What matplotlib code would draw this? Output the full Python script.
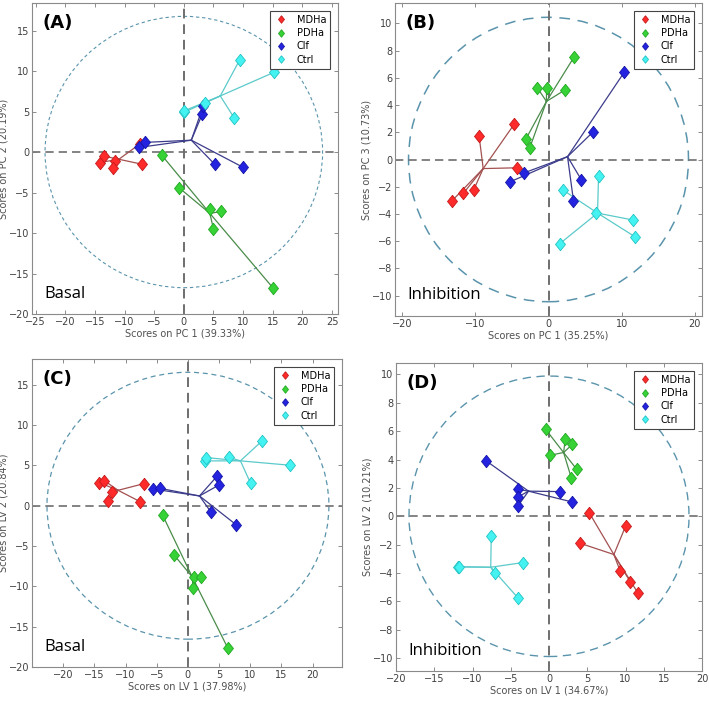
import numpy as np
import matplotlib
matplotlib.use("Agg")
import matplotlib.pyplot as plt
from matplotlib.patches import Ellipse

groups = ["MDHa", "PDHa", "Clf", "Ctrl"]
fill_colors = ["#ff2a2a", "#36d236", "#2424e0", "#45f2f2"]
edge_colors = ["#c41a1a", "#22a822", "#1414a8", "#22c4c4"]
line_colors = ["#a45050", "#4a8c4a", "#3c3c8c", "#5ccaca"]

# (A) PCA basal
a_mdha_x = [-14.2, -13.5, -11.6, -11.9, -7.1, -7.4]
a_mdha_y = [-1.3, -0.5, -1.07, -2.0, -1.5, 1.0]
a_pdha_x = [-3.7, -0.84, 4.49, 6.35, 5.0, 15.06]
a_pdha_y = [-0.41, -4.39, -7.0, -7.34, -9.5, -16.8]
a_clf_x = [-7.53, -6.52, 3.15, 3.26, 5.22, 10.0]
a_clf_y = [0.57, 1.19, 4.75, 5.66, -1.52, -1.89]
a_ctrl_x = [0.0, 0.1, 3.65, 9.44, 15.2, 8.5]
a_ctrl_y = [4.9, 5.1, 6.1, 11.4, 9.84, 4.2]

# (B) PCA inhibition
b_mdha_x = [-13.24, -11.64, -10.23, -9.5, -4.66, -4.34]
b_mdha_y = [-3.06, -2.48, -2.23, 1.76, 2.62, -0.61]
b_pdha_x = [-3.1, -2.56, -1.55, -0.27, 2.28, 3.52]
b_pdha_y = [1.5, 0.86, 5.29, 5.29, 5.12, 7.55]
b_clf_x = [-5.25, -3.42, 3.42, 4.47, 6.03, 10.37]
b_clf_y = [-1.64, -1.0, -3.04, -1.47, 1.99, 6.42]
b_ctrl_x = [2.0, 6.85, 6.48, 11.5, 11.87, 1.55]
b_ctrl_y = [-2.25, -1.18, -3.9, -4.44, -5.69, -6.18]

# (C) PLS-DA basal
c_mdha_x = [-14.2, -13.4, -12.1, -12.8, -7.65, -7.06]
c_mdha_y = [2.86, 3.11, 1.66, 0.62, 0.5, 2.74]
c_pdha_x = [-4.06, -2.19, 0.91, 2.09, 0.86, 6.36]
c_pdha_y = [-1.16, -6.14, -8.88, -8.8, -10.2, -17.6]
c_clf_x = [-5.56, -4.49, 4.7, 4.97, 3.74, 7.75]
c_clf_y = [2.07, 2.16, 3.69, 2.57, -0.83, -2.37]
c_ctrl_x = [2.73, 2.89, 6.52, 11.9, 16.4, 10.05]
c_ctrl_y = [5.56, 5.98, 6.02, 8.05, 5.02, 2.78]

# (D) PLS-DA inhibition
d_mdha_x = [5.28, 10.04, 4.06, 9.3, 10.6, 11.6]
d_mdha_y = [0.23, -0.66, -1.9, -3.85, -4.6, -5.38]
d_pdha_x = [-0.44, 0.13, 2.14, 3.06, 3.62, 2.93]
d_pdha_y = [6.13, 4.3, 5.47, 5.07, 3.31, 2.68]
d_clf_x = [-8.25, -4.06, -4.06, -4.1, 1.4, 3.01]
d_clf_y = [3.92, 1.9, 1.36, 0.7, 1.74, 1.01]
d_ctrl_x = [-7.55, -11.9, -11.7, -7.12, -3.4, -4.02]
d_ctrl_y = [-1.38, -3.57, -3.55, -4.01, -3.26, -5.77]

panels = [
    dict(tag="(A)", cond="Basal",
         xs=[a_mdha_x, a_pdha_x, a_clf_x, a_ctrl_x], ys=[a_mdha_y, a_pdha_y, a_clf_y, a_ctrl_y],
         xlabel="Scores on PC 1 (39.33%)", ylabel="Scores on PC 2 (20.19%)",
         radius=(23.4, 16.75), xlim=(-25.6, 26), ylim=(-20, 18.4),
         xticks=np.arange(-25, 26, 5), yticks=np.arange(-20, 16, 5),
         box=[32, 3, 338, 314], dash=(3, 2.5), elw=0.8),
    dict(tag="(B)", cond="Inhibition",
         xs=[b_mdha_x, b_pdha_x, b_clf_x, b_ctrl_x], ys=[b_mdha_y, b_pdha_y, b_clf_y, b_ctrl_y],
         xlabel="Scores on PC 1 (35.25%)", ylabel="Scores on PC 3 (10.73%)",
         radius=(19.15, 10.45), xlim=(-21, 21), ylim=(-11.5, 11.5),
         xticks=np.arange(-20, 21, 10), yticks=np.arange(-10, 11, 2),
         box=[395, 3, 702, 316], dash=(7, 5), elw=1.1),
    dict(tag="(C)", cond="Basal",
         xs=[c_mdha_x, c_pdha_x, c_clf_x, c_ctrl_x], ys=[c_mdha_y, c_pdha_y, c_clf_y, c_ctrl_y],
         xlabel="Scores on LV 1 (37.98%)", ylabel="Scores on LV 2 (20.84%)",
         radius=(22.6, 16.55), xlim=(-25, 24.7), ylim=(-20, 18.2),
         xticks=np.arange(-20, 21, 5), yticks=np.arange(-20, 16, 5),
         box=[32, 359, 342, 667], dash=(4, 3), elw=0.9),
    dict(tag="(D)", cond="Inhibition",
         xs=[d_mdha_x, d_pdha_x, d_clf_x, d_ctrl_x], ys=[d_mdha_y, d_pdha_y, d_clf_y, d_ctrl_y],
         xlabel="Scores on LV 1 (34.67%)", ylabel="Scores on LV 2 (10.21%)",
         radius=(18.3, 9.88), xlim=(-20, 20), ylim=(-10.9, 10.8),
         xticks=np.arange(-20, 21, 5), yticks=np.arange(-10, 11, 2),
         box=[396, 363, 702, 671], dash=(6, 4), elw=1.0),
]

W, H = 709, 702
diamond = [(0, 1), (0.8, 0), (0, -1), (-0.8, 0), (0, 1)]

fig = plt.figure(figsize=(W / 100, H / 100), dpi=100)

for p in panels:
    l, t, r, b = p["box"]
    ax = fig.add_axes([l / W, 1 - b / H, (r - l) / W, (b - t) / H])
    ax.set_xlim(p["xlim"])
    ax.set_ylim(p["ylim"])

    ell = Ellipse((0, 0), 2 * p["radius"][0], 2 * p["radius"][1], fill=False,
                  edgecolor="#5a94ac", lw=p["elw"], linestyle=(0, p["dash"]), zorder=1)
    ax.add_patch(ell)
    ax.axhline(0, color="#6e6e6e", lw=1.2, linestyle=(0, (5, 3)), zorder=1)
    ax.axvline(0, color="#6e6e6e", lw=1.4, linestyle=(0, (5, 3)), zorder=1)

    handles = []
    for i, g in enumerate(groups):
        x = np.array(p["xs"][i])
        y = np.array(p["ys"][i])
        cx, cy = x.mean(), y.mean()
        for xi, yi in zip(x, y):
            ax.plot([cx, xi], [cy, yi], color=line_colors[i], lw=0.9, zorder=2)
        h = ax.plot(x, y, linestyle="none", marker=diamond, markersize=9,
                    markerfacecolor=fill_colors[i], markeredgecolor=edge_colors[i],
                    markeredgewidth=0.6, zorder=3, label=g)[0]
        handles.append(h)

    leg = ax.legend(handles=handles, loc="upper right", fontsize=7, fancybox=False,
                    edgecolor="#444444", framealpha=1, handlelength=1.6,
                    borderaxespad=0.8, labelspacing=0.35, markerscale=0.6)
    leg.get_frame().set_linewidth(0.8)

    ax.set_xticks(p["xticks"])
    ax.set_yticks(p["yticks"])
    ax.tick_params(direction="in", length=3, width=0.6, labelsize=7, pad=2,
                   colors="#7a7a7a", labelcolor="#404040", top=True, right=True)
    for s in ax.spines.values():
        s.set_color("#8a8a8a")
        s.set_linewidth(0.8)
    ax.set_xlabel(p["xlabel"], fontsize=7, color="#505050", labelpad=1)
    ax.set_ylabel(p["ylabel"], fontsize=7, color="#505050", labelpad=0)

    ax.text(0.035, 0.965, p["tag"], transform=ax.transAxes, fontsize=13,
            fontweight="bold", va="top", ha="left", color="black")
    ax.text(0.04, 0.04, p["cond"], transform=ax.transAxes, fontsize=12,
            family="Open Sans", va="bottom", ha="left", color="black")

fig.savefig("out.png", dpi=100)
